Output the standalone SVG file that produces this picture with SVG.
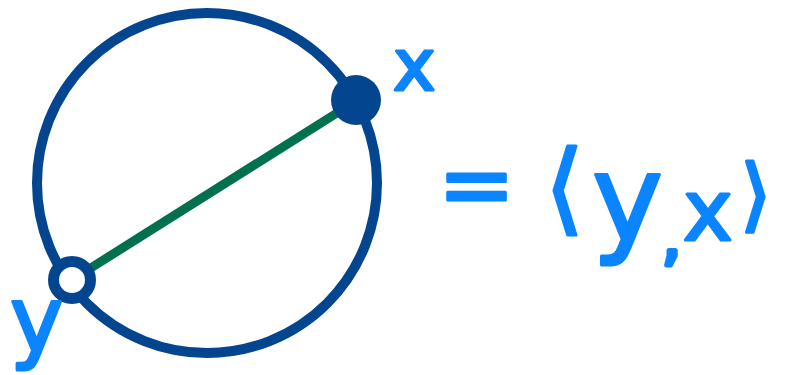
<svg xmlns="http://www.w3.org/2000/svg" width="790" height="375" viewBox="0 0 790 375">
<style>
.ring{fill:none;stroke:#03468F;stroke-width:10}
.hand{fill:#0A84FF;stroke:#0A84FF;stroke-width:3;stroke-linejoin:round;font-family:"DejaVu Sans",sans-serif}
</style>
<rect width="790" height="375" fill="#fff"/>
<g id="circle"><circle class="ring" cx="207" cy="183" r="170"/></g>
<g id="connectors"><line x1="86" y1="271" x2="348" y2="106" stroke="#00704F" stroke-width="9" stroke-linecap="round"/></g>
<g id="node-x"><circle cx="356" cy="100" r="25" fill="#03468F"/></g>
<g id="node-y"><circle cx="72" cy="280" r="18.5" fill="#fff" stroke="#03468F" stroke-width="11"/></g>
<g id="label-x"><text class="hand" x="393" y="90" font-size="72">x</text></g>
<g id="label-y"><text class="hand" x="10" y="351" font-size="90">y</text></g>
<g id="expression"><text class="hand" font-size="92"><tspan x="438" y="216">=</tspan><tspan x="545" y="222" font-size="100">⟨</tspan><tspan x="592" y="240" font-size="120">y</tspan><tspan x="662" y="258" font-size="60" stroke-width="5">,</tspan><tspan x="683" y="240" font-size="84">x</tspan><tspan x="740" y="222" font-size="80">⟩</tspan></text></g>
</svg>
